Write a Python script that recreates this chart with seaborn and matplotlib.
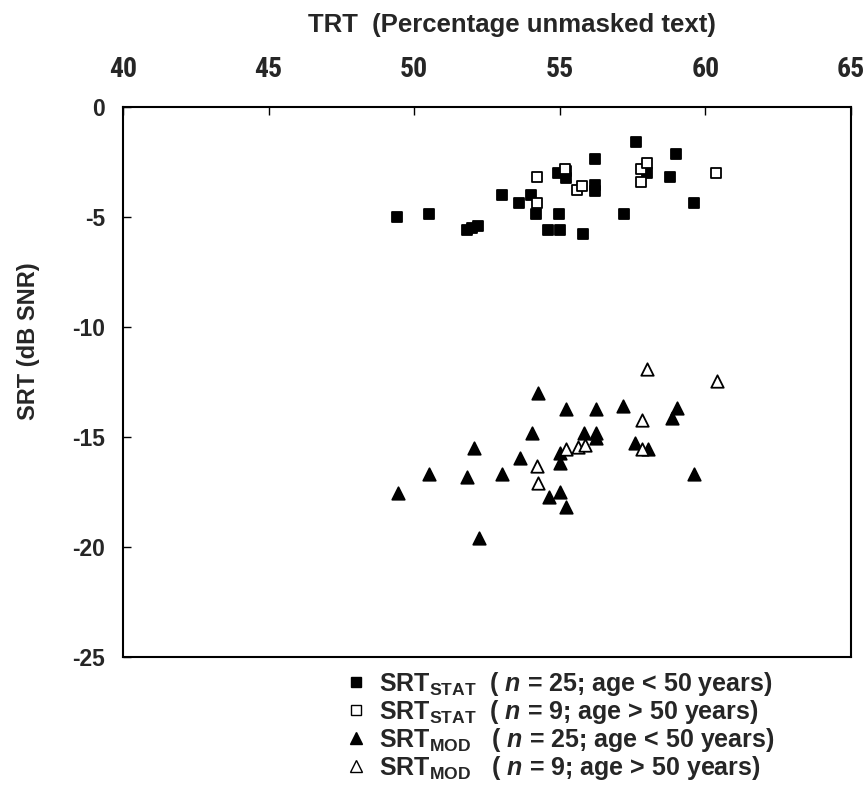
import matplotlib
matplotlib.use("Agg")
import matplotlib.pyplot as plt
import seaborn as sns
import pandas as pd
from matplotlib.lines import Line2D

# ---- data ----
stat_young_x = [49.4, 50.5, 51.8, 52.0, 52.2, 53.0, 53.6, 54.0, 54.2, 54.6, 54.95, 54.97,
                55.0, 55.2, 55.2, 55.8, 56.2, 56.2, 56.2, 57.2, 57.6, 58.0, 58.8, 59.0, 59.6]
stat_young_y = [-5.0, -4.85, -5.58, -5.5, -5.43, -4.0, -4.37, -4.0, -4.86, -5.58, -3.01, -4.86,
                -5.58, -3.24, -2.9, -5.78, -2.37, -3.54, -3.81, -4.86, -1.57, -3.01, -3.19, -2.15, -4.37]

stat_old_x = [54.23, 55.19, 54.23, 55.58, 55.77, 57.79, 57.98, 57.79, 60.36]
stat_old_y = [-3.19, -2.83, -4.37, -3.77, -3.57, -2.83, -2.56, -3.42, -3.01]

mod_young_x = [49.45, 50.52, 51.82, 52.05, 52.24, 53.02, 53.63, 54.03, 54.26, 54.64, 55.01, 55.21,
               55.01, 55.01, 55.21, 55.83, 56.23, 56.24, 56.24, 57.18, 57.58, 58.02, 58.84, 59.03, 59.61]
mod_young_y = [-17.53, -16.67, -16.82, -15.52, -19.57, -16.67, -15.97, -14.84, -12.99, -17.73, -17.5, -18.18,
               -16.17, -15.71, -13.75, -14.81, -13.75, -14.84, -15.03, -13.57, -15.26, -15.53, -14.13, -13.67, -16.67]

mod_old_x = [54.23, 54.26, 55.23, 55.63, 55.87, 57.81, 57.81, 58.0, 60.41]
mod_old_y = [-16.32, -17.1, -15.53, -15.46, -15.37, -14.25, -15.56, -11.93, -12.46]

x_ticks = [40, 45, 50, 55, 60, 65]
y_ticks = [0, -5, -10, -15, -20, -25]

labels = [r"SRT$_{\rm STAT}$  ( $n$ = 25; age < 50 years)",
          r"SRT$_{\rm STAT}$  ( $n$ = 9; age > 50 years)",
          r"SRT$_{\rm MOD}$   ( $n$ = 25; age < 50 years)",
          r"SRT$_{\rm MOD}$   ( $n$ = 9; age > 50 years)"]

sns.set_theme(style="white")
plt.rcParams["font.family"] = ["Liberation Sans", "DejaVu Sans"]
plt.rcParams["font.weight"] = "bold"
plt.rcParams["axes.unicode_minus"] = False
plt.rcParams["mathtext.fontset"] = "custom"
plt.rcParams["mathtext.rm"] = "Liberation Sans:bold"
plt.rcParams["mathtext.it"] = "Liberation Sans:bold:italic"
plt.rcParams["mathtext.bf"] = "Liberation Sans:bold"

fig = plt.figure(figsize=(8.65, 7.86), dpi=100)
ax = fig.add_axes([0.1422, 0.1641, 0.9838 - 0.1422, 0.8639 - 0.1641])

series = [
    (stat_young_x, stat_young_y, "s", "black", 62),
    (stat_old_x, stat_old_y, "s", "white", 62),
    (mod_young_x, mod_young_y, "^", "black", 80),
    (mod_old_x, mod_old_y, "^", "white", 80),
]
for (xs, ys, m, fc, sz) in series:
    df = pd.DataFrame({"x": xs, "y": ys})
    sns.scatterplot(data=df, x="x", y="y", ax=ax, marker=m, color=fc,
                    edgecolor="black", linewidth=1.3, s=sz, zorder=3)

ax.set_xlim(40, 65)
ax.set_ylim(-25, 0)
ax.set_xticks(x_ticks)
ax.set_yticks(y_ticks)
ax.xaxis.tick_top()
ax.xaxis.set_label_position("top")
ax.tick_params(axis="x", direction="in", length=6, width=1, pad=17, labelsize=20,
               top=True, bottom=False, color="black")
ax.tick_params(axis="y", direction="in", length=6, width=1, pad=13, labelsize=16.5,
               left=True, color="black")
for lab in ax.get_xticklabels():
    lab.set_fontweight("bold")
    lab.set_family(["Roboto Condensed", "Liberation Sans"])
for lab in ax.get_yticklabels():
    lab.set_fontweight("bold")
ax.set_xlabel("TRT  (Percentage unmasked text)", fontsize=18.5, fontweight="bold")
ax.xaxis.set_label_coords(0.534, 1.149)
ax.xaxis.label.set_va("center")
ax.set_ylabel("SRT (dB SNR)", fontsize=17, fontweight="bold")
ax.yaxis.set_label_coords(-0.130, 0.575)
ax.yaxis.label.set_va("center")
for sp in ax.spines.values():
    sp.set_color("black")
    sp.set_linewidth(1.5)

handles = [
    Line2D([], [], marker="s", ls="", mfc="black", mec="black", ms=7),
    Line2D([], [], marker="s", ls="", mfc="white", mec="black", ms=7, mew=1),
    Line2D([], [], marker="^", ls="", mfc="black", mec="black", ms=8),
    Line2D([], [], marker="^", ls="", mfc="white", mec="black", ms=8, mew=1),
]
fig.legend(handles, labels, loc="upper left", bbox_to_anchor=(0.386, 0.164),
           frameon=False, handlelength=0.8, handletextpad=0.5,
           labelspacing=0.0, borderpad=0, prop={"weight": "bold", "size": 18})

fig.savefig("out.png", dpi=100)
